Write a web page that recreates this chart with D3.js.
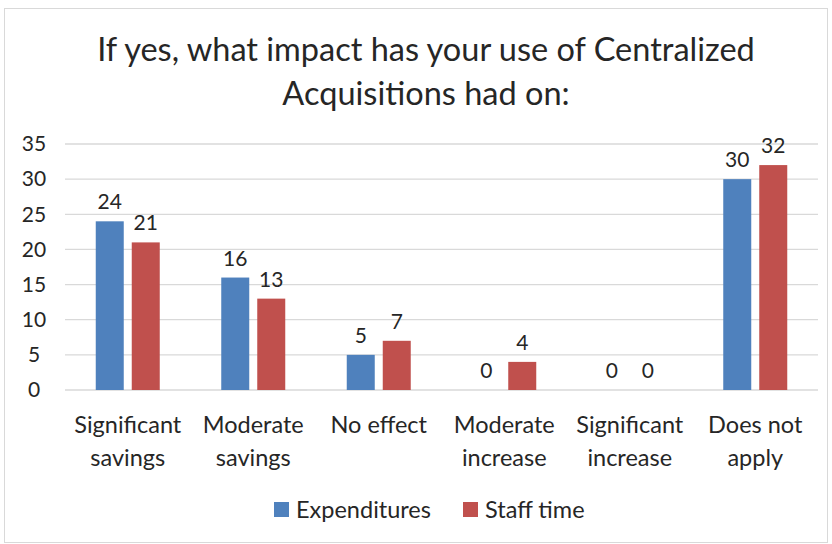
<!DOCTYPE html>
<html>
<head>
<meta charset="utf-8">
<script src="https://d3js.org/d3.v7.min.js"></script>
<style>
  body { margin: 0; background: #fff; }
  text { font-family: Lato, "Open Sans", sans-serif; fill: #262626; }
</style>
</head>
<body>
<svg id="chart" width="832" height="544"></svg>
<script>
// data
var categories = [["Significant", "savings"], ["Moderate", "savings"], ["No effect"],
                  ["Moderate", "increase"], ["Significant", "increase"], ["Does not", "apply"]];
var seriesNames = ["Expenditures", "Staff time"];
var expenditures = [24, 16, 5, 0, 0, 30];
var staffTime = [21, 13, 7, 4, 0, 32];
var yTicks = [0, 5, 10, 15, 20, 25, 30, 35];
var colors = ["#4f81bd", "#c0504d"];

var svg = d3.select("#chart");

// outer border
svg.append("rect")
  .attr("x", 4.5).attr("y", 8.5)
  .attr("width", 823).attr("height", 534)
  .attr("fill", "#fff")
  .attr("stroke", "#d9d9d9");

var margin = {left: 65, right: 14, top: 144, bottom: 154};
var width = 832 - margin.left - margin.right,
    height = 544 - margin.top - margin.bottom;

var g = svg.append("g").attr("transform", `translate(${margin.left},${margin.top})`);

var x = d3.scaleBand().domain(d3.range(categories.length)).range([0, width]);
var y = d3.scaleLinear().domain([0, 35]).range([height, 0]);

// gridlines
g.selectAll(".grid")
  .data(yTicks)
  .enter().append("line")
  .attr("x1", 0).attr("x2", width)
  .attr("y1", d => y(d)).attr("y2", d => y(d))
  .attr("stroke", "#d9d9d9").attr("stroke-width", 1.3);

// y axis labels
var yAxis = g.append("g").call(d3.axisLeft(y).tickValues(yTicks).tickSize(0).tickPadding(20));
yAxis.select(".domain").remove();
yAxis.selectAll("text").style("font-size", "21px").attr("fill", "#262626")
  .style("font-family", "Lato, sans-serif").attr("text-anchor", "middle").attr("dx", "-11");

var barW = 28, gap = 8;
var series = [expenditures, staffTime];

series.forEach(function(vals, s) {
  var offset = s === 0 ? -gap / 2 - barW : gap / 2;
  g.selectAll(".bar" + s)
    .data(vals)
    .enter().append("rect")
    .attr("x", (d, i) => x(i) + x.bandwidth() / 2 + offset)
    .attr("y", d => y(d))
    .attr("width", barW)
    .attr("height", d => height - y(d))
    .attr("fill", colors[s]);

  g.selectAll(".lab" + s)
    .data(vals)
    .enter().append("text")
    .attr("x", (d, i) => x(i) + x.bandwidth() / 2 + offset + barW / 2)
    .attr("y", d => y(d) - 12)
    .attr("text-anchor", "middle")
    .style("font-size", "21px")
    .text(d => d);
});

// category labels
var cat = g.selectAll(".cat")
  .data(categories)
  .enter().append("text")
  .attr("text-anchor", "middle")
  .attr("transform", (d, i) => `translate(${x(i) + x.bandwidth() / 2},${height + 43})`)
  .style("font-size", "23.5px");
cat.selectAll("tspan")
  .data(d => d)
  .enter().append("tspan")
  .attr("x", 0)
  .attr("dy", (d, i) => i === 0 ? 0 : 33)
  .text(d => d);

// title
var title = svg.append("text")
  .attr("text-anchor", "middle")
  .attr("transform", "translate(426,61)")
  .style("font-size", "32.5px");
title.append("tspan").attr("x", 0).text("If yes, what impact has your use of Centralized");
title.append("tspan").attr("x", 0).attr("dy", 44).text("Acquisitions had on:");

// legend
var legend = svg.append("g").attr("transform", "translate(274,502)");
var legX = [0, 189];
seriesNames.forEach(function(name, s) {
  var lg = legend.append("g").attr("transform", `translate(${legX[s]},0)`);
  lg.append("rect").attr("width", 15).attr("height", 15).attr("fill", colors[s]);
  lg.append("text").attr("x", 22).attr("y", 16).style("font-size", "23.5px").text(name);
});
</script>
</body>
</html>
